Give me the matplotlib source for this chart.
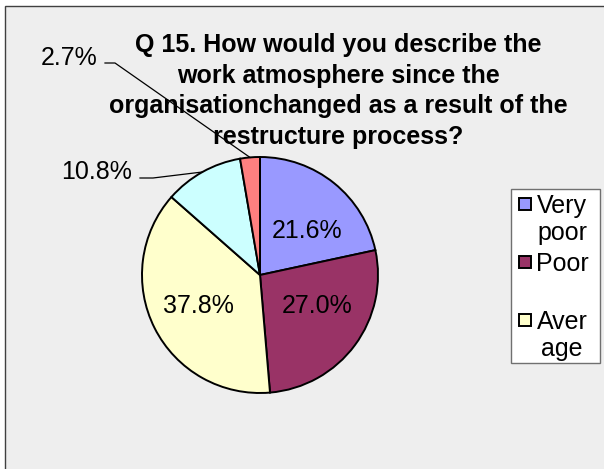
import matplotlib
matplotlib.use("Agg")
import matplotlib.pyplot as plt
from matplotlib.patches import Rectangle
import numpy as np

# ---- data ----
categories = ["Very poor", "Poor", "Average", "Good", "Very good"]
counts = [8, 10, 14, 4, 1]
colors = ["#9999FF", "#993366", "#FFFFCC", "#CCFFFF", "#FF8080"]
legend_labels = ["Very\npoor", "Poor", "Aver\nage"]   # wrapped as shown (only three visible)
title = ("Q 15. How would you describe the\nwork atmosphere since the\n"
         "organisationchanged as a result of the\nrestructure process?")

# ---- layout (pixels of the 604x469 canvas) ----
W, H = 604, 469
CX, CY, R = 260, 275, 118
FS = 18
FONT = "Liberation Sans"

plt.rcParams["font.family"] = [FONT, "DejaVu Sans"]

fig = plt.figure(figsize=(W / 100, H / 100), dpi=100)
fig.patch.set_facecolor("white")

def fx(px):
    return px / W

def fy(py):
    return 1 - py / H

# chart area background with border
fig.patches.append(Rectangle((fx(5), -0.05), 1.2, fy(6) + 0.05, transform=fig.transFigure,
                             facecolor="#EEEEEE", edgecolor="#404040", linewidth=1.0, zorder=-5))

ax = fig.add_axes([0, 0, 1, 1])
ax.set_facecolor("none")
ax.set_zorder(1)

def pct_fmt(p):
    return "%.1f%%" % p if p >= 15 else ""

wedges, texts, autotexts = ax.pie(
    counts, colors=colors, startangle=90, counterclock=False, radius=1,
    wedgeprops=dict(edgecolor="black", linewidth=1.4),
    autopct=pct_fmt, pctdistance=0.58,
    textprops=dict(fontsize=FS, color="black", family=FONT))

ax.set_xlim((0 - CX) / R, (W - CX) / R)
ax.set_ylim((CY - H) / R, CY / R)
ax.set_aspect("auto")
ax.axis("off")

# small nudges (px) for inner labels to follow the original placement
nudges = [(4, -9), (2, 10), (0, 0)]
for t, (dx, dy) in zip(autotexts[:3], nudges):
    x, y = t.get_position()
    t.set_position((x + dx / R, y + dy / R))

# title (drawn inside the axes so leader lines can cross it)
ax.text(fx(338), fy(33), title, transform=fig.transFigure, ha="center", va="top",
        fontsize=FS, fontweight="bold", family=FONT, linespacing=1.345, zorder=5)

# outer labels with leader lines
total = sum(counts)
outer = {3: dict(text_xy=(97, 179), elbow=(153, 178), end=(140, 178)),
         4: dict(text_xy=(69, 65), elbow=(115, 63), end=(105, 63))}
for i, spec in outer.items():
    w = wedges[i]
    mid = np.deg2rad((w.theta1 + w.theta2) / 2)
    ex, ey = np.cos(mid), np.sin(mid)
    bx, by = (spec["elbow"][0] - CX) / R, (CY - spec["elbow"][1]) / R
    qx, qy = (spec["end"][0] - CX) / R, (CY - spec["end"][1]) / R
    ax.plot([ex, bx, qx], [ey, by, qy], color="black", linewidth=0.9, zorder=6)
    tx, ty = (spec["text_xy"][0] - CX) / R, (CY - spec["text_xy"][1]) / R
    ax.text(tx, ty, "%.1f%%" % (100 * counts[i] / total), ha="center", va="baseline",
            fontsize=FS, family=FONT, zorder=6)

# legend (manual, clipped as in the original)
fig.patches.append(Rectangle((fx(511), fy(363)), fx(600) - fx(511), fy(189) - fy(363),
                             transform=fig.transFigure, facecolor="white",
                             edgecolor="#707070", linewidth=1.0, zorder=2))
for k, lab in enumerate(legend_labels):
    top = 198 + 58 * k
    fig.patches.append(Rectangle((fx(519), fy(top + 12)), fx(12), 12 / H,
                                 transform=fig.transFigure, facecolor=colors[k],
                                 edgecolor="black", linewidth=1.4, zorder=3))
    for j, line in enumerate(lab.split("\n")):
        fig.text(fx(562), fy(213 + 58 * k + 27 * j), line, ha="center", va="baseline",
                 fontsize=FS, family=FONT, zorder=4)

fig.savefig("out.png", dpi=100, facecolor=fig.get_facecolor())
